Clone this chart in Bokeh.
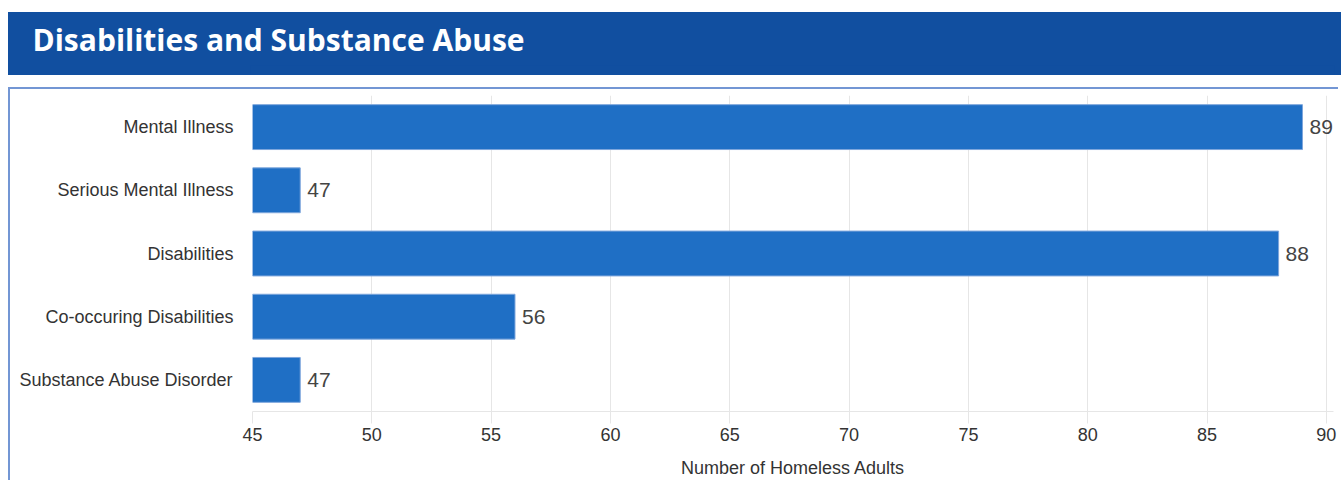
from bokeh.plotting import figure
from bokeh.models import Range1d, FactorRange, ColumnDataSource, LabelSet, FixedTicker
from bokeh.core.properties import value
from bokeh.layouts import column
from bokeh.embed import file_html
from bokeh.resources import INLINE

title_text = "Disabilities and Substance Abuse"
categories = ["Mental Illness", "Serious Mental Illness", "Disabilities",
              "Co-occuring Disabilities", "Substance Abuse Disorder"]
values = [89, 47, 88, 56, 47]
x_start = 45
x_end = 90
x_ticks = [45, 50, 55, 60, 65, 70, 75, 80, 85, 90]
x_title = "Number of Homeless Adults"

BANNER = "#114fa0"

# ---- banner ----
banner = figure(width=1333, height=63, output_backend="svg", toolbar_location=None,
                x_range=Range1d(0, 1), y_range=Range1d(0, 1),
                x_axis_type=None, y_axis_type=None,
                min_border_top=50, min_border_bottom=0, min_border_left=242, min_border_right=0,
                styles={"background-color": BANNER})
banner.margin = (12, 0, 0, 8)
banner.background_fill_color = None
banner.border_fill_color = BANNER
banner.outline_line_color = None
banner.grid.visible = False
banner.title.text = title_text
banner.title.align = "left"
banner.title.vertical_align = "middle"
banner.title.offset = -218
banner.title.text_color = "white"
banner.title.text_font = "Open Sans"
banner.title.text_font_style = "bold"
banner.title.text_font_size = "30px"

# ---- chart ----
src = ColumnDataSource(dict(cat=categories, val=values, left=[x_start] * len(values),
                            lab=[str(v) for v in values]))

p = figure(width=1330, height=393, output_backend="svg", toolbar_location=None,
           x_range=Range1d(x_start, x_end + 0.3), y_range=FactorRange(*reversed(categories)),
           min_border_top=6, min_border_bottom=71, min_border_left=240, min_border_right=7,
           styles={"border-top": "2px solid #7396d4", "border-left": "2px solid #7396d4"})
p.margin = (12, 0, 0, 8)
p.outline_line_color = None
p.border_fill_color = "white"
p.background_fill_color = "white"

p.hbar(y="cat", left="left", right="val", height=0.71, source=src,
       fill_color="#1f6fc5", line_color="#7ea6dc", line_width=1)

p.add_layout(LabelSet(x="val", y="cat", text="lab", source=src, x_offset=7,
                      text_baseline="middle", text_align="left",
                      text_font=value("Liberation Sans"), text_font_size="21px",
                      text_color="#444444"))

p.xaxis.ticker = FixedTicker(ticks=x_ticks)
p.xaxis.axis_line_color = "#e6e6e6"
p.xaxis.major_tick_line_color = "#e6e6e6"
p.xaxis.major_tick_out = 12
p.xaxis.major_tick_in = 0
p.xaxis.minor_tick_line_color = None
p.xaxis.major_label_standoff = 4
p.xaxis.major_label_text_font = "Liberation Sans"
p.xaxis.major_label_text_font_size = "18px"
p.xaxis.major_label_text_color = "#333333"
p.xaxis.axis_label = x_title
p.xaxis.axis_label_standoff = 14
p.xaxis.axis_label_text_font = "Liberation Sans"
p.xaxis.axis_label_text_font_size = "18px"
p.xaxis.axis_label_text_font_style = "normal"
p.xaxis.axis_label_text_color = "#333333"

p.yaxis.axis_line_color = None
p.yaxis.major_tick_line_color = None
p.yaxis.minor_tick_line_color = None
p.yaxis.major_label_standoff = 13
p.yaxis.major_label_text_font = "Liberation Sans"
p.yaxis.major_label_text_font_size = "18px"
p.yaxis.major_label_text_color = "#333333"

p.xgrid.grid_line_color = "#e6e6e6"
p.ygrid.grid_line_color = None

layout = column(banner, p, spacing=0)
open("out.html", "w").write(file_html(layout, INLINE))
